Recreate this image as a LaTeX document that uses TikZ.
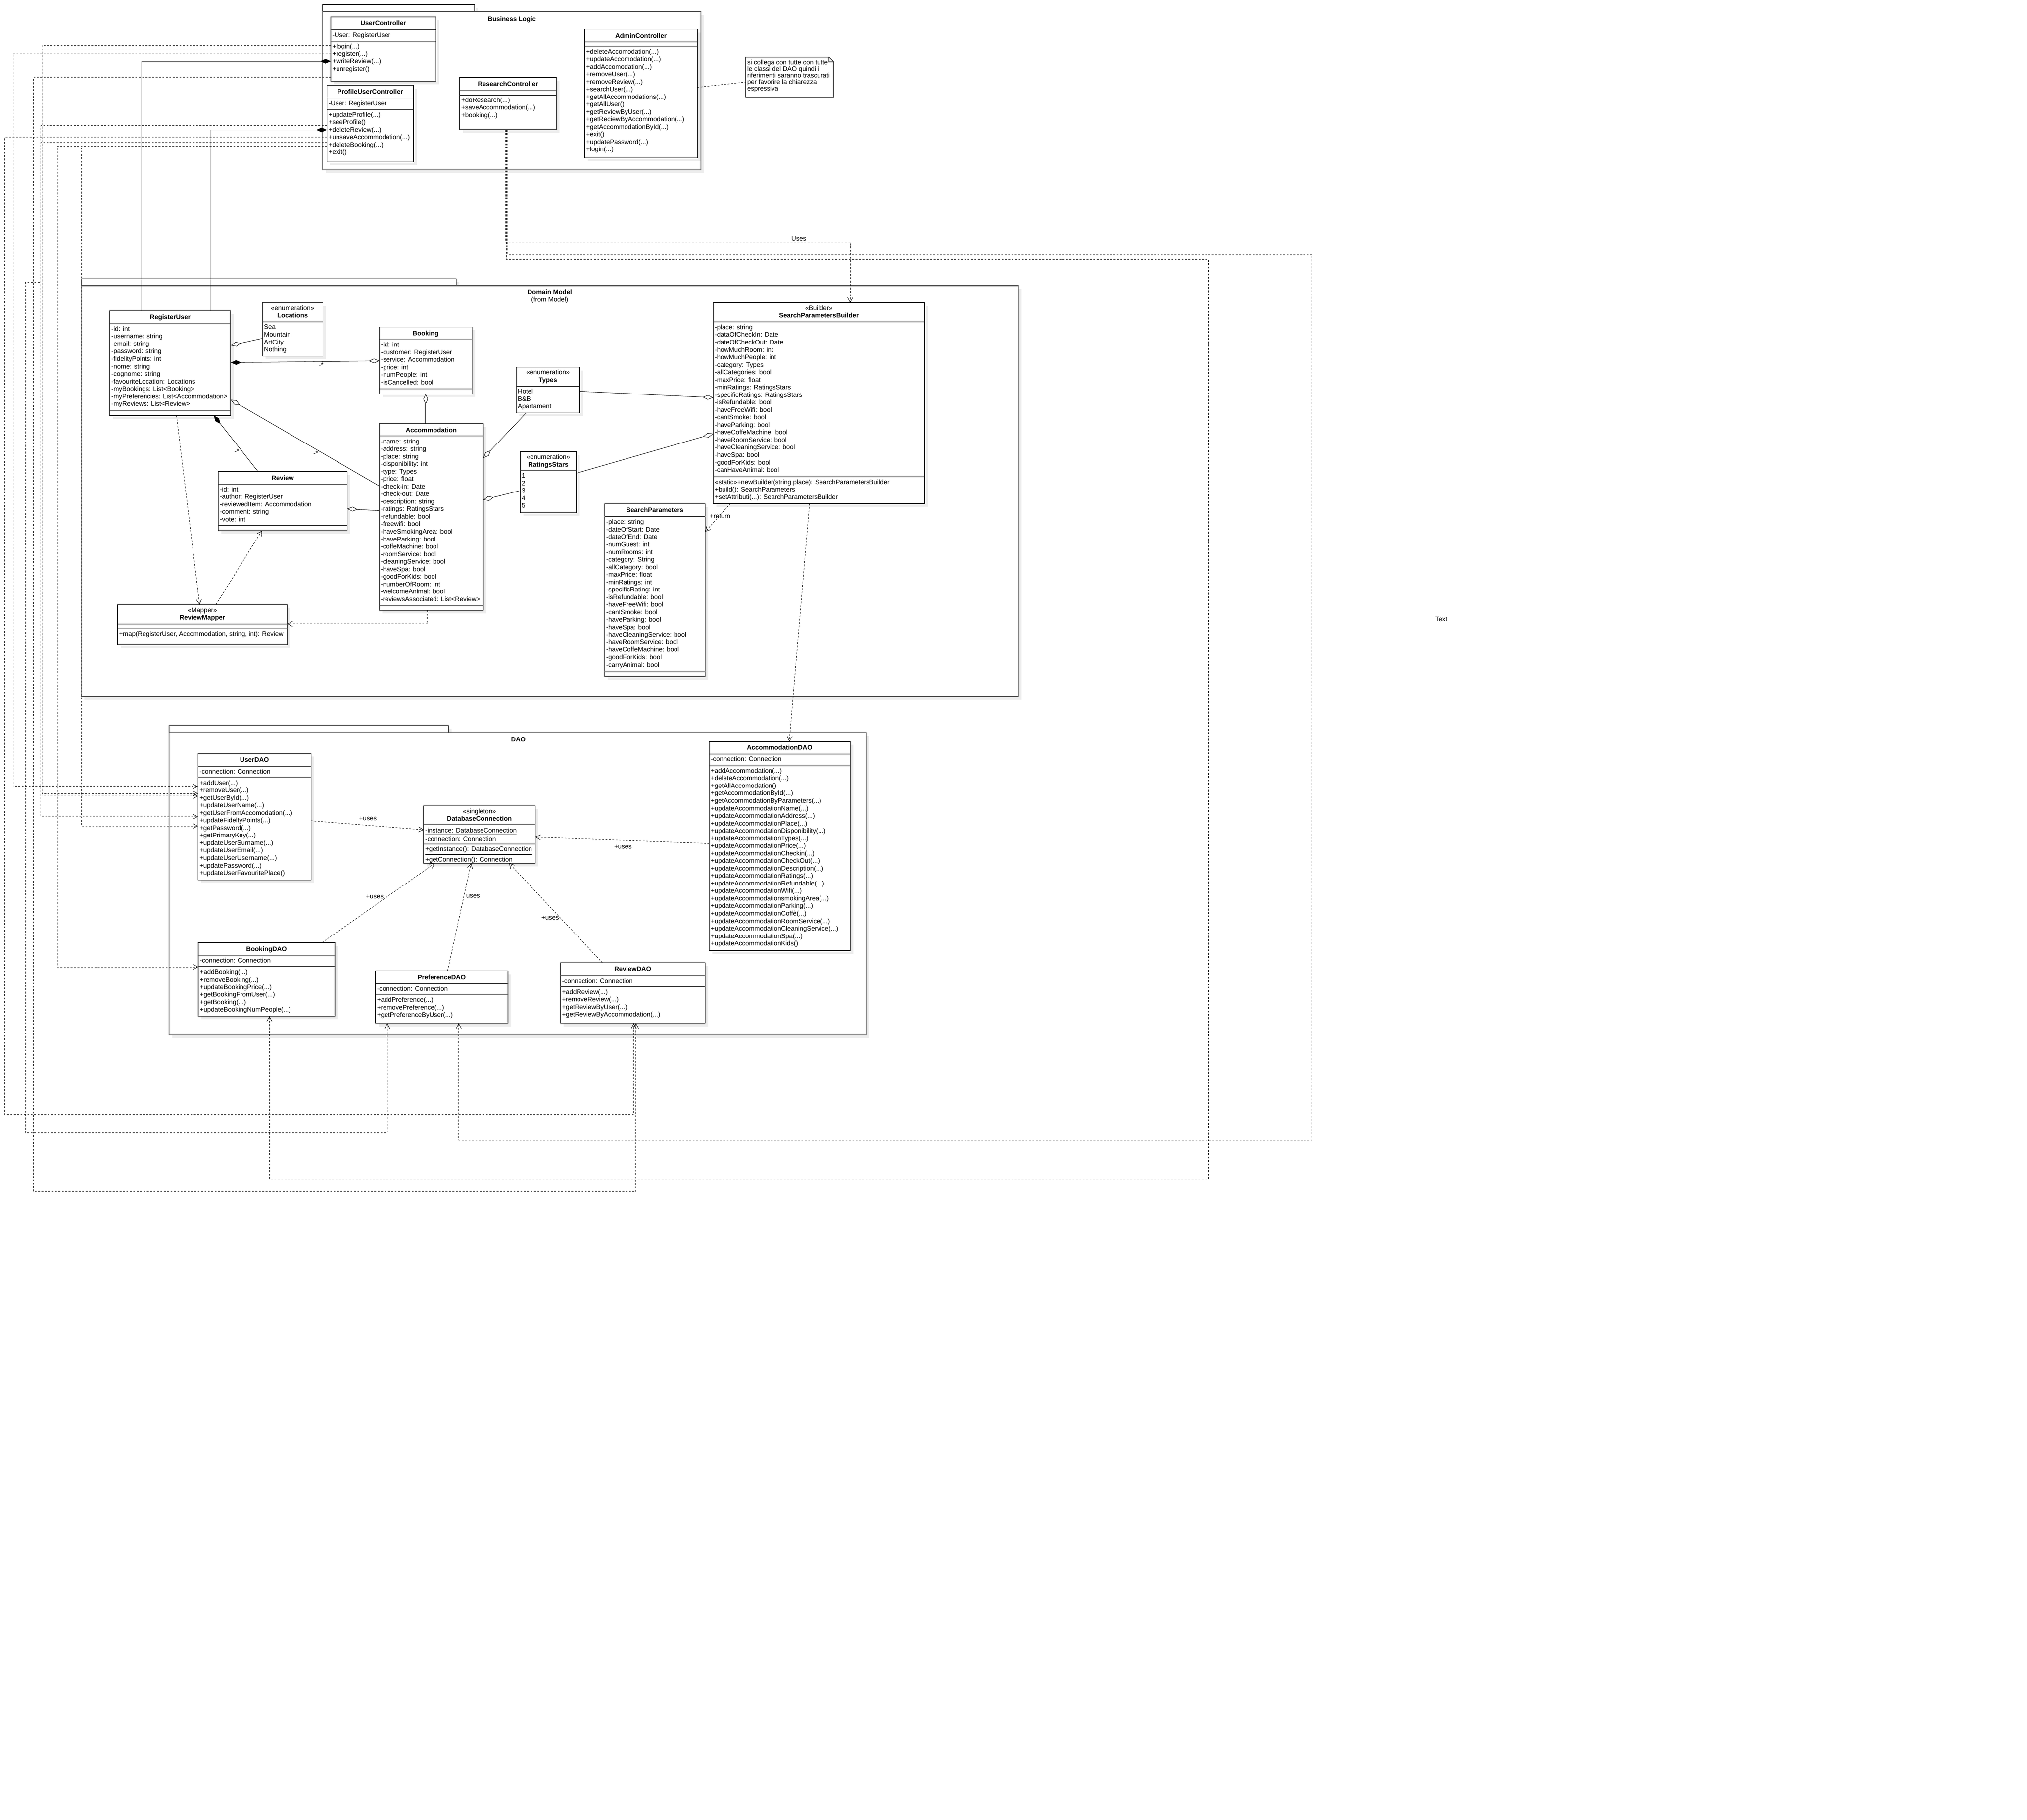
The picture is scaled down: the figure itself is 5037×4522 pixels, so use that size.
\documentclass[tikz,border=0pt]{standalone}
\usepackage{fontspec}
\setmainfont{Liberation Sans}
\usetikzlibrary{arrows.meta}
\begin{document}
\begin{tikzpicture}[x=0.01cm, y=-0.01cm, font=\fontsize{4.6}{5.31}\selectfont,
  classbox/.style={draw, line width=0.4pt, fill=white, inner sep=0pt, outer sep=0pt, anchor=north west},
  shade/.style={fill=black!7},
  sepline/.style={draw=black!75, line width=0.55pt},
  pkgtab/.style={draw, line width=0.4pt, fill=white},
  pkgline/.style={draw=black!70, line width=0.6pt, fill=white},
  txt/.style={inner sep=0pt, outer sep=0pt, align=left, anchor=north west},
  ttl/.style={inner sep=0pt, font=\fontsize{4.6}{5.31}\selectfont\bfseries, anchor=base},
  ster/.style={inner sep=0pt, anchor=base},
  lbl/.style={inner sep=0pt, anchor=base},
  link/.style={line width=0.3pt},
  dep/.style={link, dash pattern=on 1.3pt off 1.1pt, -{Straight Barb[length=3.4pt, width=3.7pt]}},
  aggr/.style={link, -{Diamond[open, length=7.5pt, width=3.3pt]}},
  comp/.style={link, -{Diamond[length=7.5pt, width=3.3pt]}}]
\fill[white] (0,0) rectangle (5037,4522);
\useasboundingbox (0,0) rectangle (5037,4522);
\fill[shade] (810,20.3) rectangle (1187,37.3);
\fill[shade] (810,37.3) rectangle (1750,430);
\draw[pkgtab] (802,12.3) rectangle (1179,29.3);
\draw[pkgline] (802,29.3) rectangle (1742,422);
\node[ttl] (blogic) at (1272,52.7) {Business Logic};
\fill[shade] (209.9,700.3) rectangle (1141.6,717.7);
\fill[shade] (209.9,717.7) rectangle (2539,1739);
\draw[pkgtab] (201.9,692.3) rectangle (1133.6,709.7);
\draw[pkgline] (201.9,709.7) rectangle (2531,1731);
\node[ttl] (dmodel) at (1366,731) {Domain Model};
\node[ster] (dmodel-s) at (1366,750) {(from Model)};
\fill[shade] (428,1810.7) rectangle (1122.5,1828);
\fill[shade] (428,1828) rectangle (2160,2580.3);
\draw[pkgtab] (420,1802.7) rectangle (1114.5,1820);
\draw[pkgline] (420,1820) rectangle (2152,2572.3);
\node[ttl] (dao) at (1288,1842.7) {DAO};
\fill[shade] (830,50.3) rectangle ++(261,159.7);
\node[classbox, minimum width=2.61cm, minimum height=1.597cm] (UserController) at (822,42.3) {};
\draw[sepline] (UserController.west |- 0,73.3) -- (UserController.east |- 0,73.3);
\draw[sepline] (UserController.west |- 0,102.3) -- (UserController.east |- 0,102.3);
\node[ttl] (UserController-t) at (952.5,63.3) {UserController};
\node[txt] (UserController-a) at (826,80.7) {-User: RegisterUser};
\node[txt] (UserController-m) at (826,108.7) {+login(...)\\+register(...)\\+writeReview(...)\\+unregister()};
\fill[shade] (820.5,220.3) rectangle ++(215.1,190);
\node[classbox, minimum width=2.151cm, minimum height=1.9cm] (ProfileUserController) at (812.5,212.3) {};
\draw[sepline] (ProfileUserController.west |- 0,243.7) -- (ProfileUserController.east |- 0,243.7);
\draw[sepline] (ProfileUserController.west |- 0,272.3) -- (ProfileUserController.east |- 0,272.3);
\node[ttl] (ProfileUserController-t) at (920,233) {ProfileUserController};
\node[txt] (ProfileUserController-a) at (816.5,250.7) {-User: RegisterUser};
\node[txt] (ProfileUserController-m) at (816.5,278.7) {+updateProfile(...)\\+seeProfile()\\+deleteReview(...)\\+unsaveAccommodation(...)\\+deleteBooking(...)\\+exit()};
\fill[shade] (1150.3,200.3) rectangle ++(240,130);
\node[classbox, minimum width=2.4cm, minimum height=1.3cm] (ResearchController) at (1142.3,192.3) {};
\draw[sepline] (ResearchController.west |- 0,223.3) -- (ResearchController.east |- 0,223.3);
\draw[sepline] (ResearchController.west |- 0,236.3) -- (ResearchController.east |- 0,236.3);
\node[ttl] (ResearchController-t) at (1262.3,213.7) {ResearchController};
\node[txt] (ResearchController-m) at (1146.3,242.3) {+doResearch(...)\\+saveAccommodation(...)\\+booking(...)};
\fill[shade] (1460.7,80.3) rectangle ++(280,320);
\node[classbox, minimum width=2.8cm, minimum height=3.2cm] (AdminController) at (1452.7,72.3) {};
\draw[sepline] (AdminController.west |- 0,103.7) -- (AdminController.east |- 0,103.7);
\draw[sepline] (AdminController.west |- 0,116) -- (AdminController.east |- 0,116);
\node[ttl] (AdminController-t) at (1592.6,93.7) {AdminController};
\node[txt] (AdminController-m) at (1456.7,122.3) {+deleteAccomodation(...)\\+updateAccomodation(...)\\+addAccomodation(...)\\+removeUser(...)\\+removeReview(...)\\+searchUser(...)\\+getAllAccommodations(...)\\+getAllUser()\\+getReviewByUser(...)\\+getReciewByAccommodation(...)\\+getAccommodationById(...)\\+exit()\\+updatePassword(...)\\+login(...)};
\draw[line width=0.4pt, fill=white] (1853,142.3) -- (2060,142.3) -- (2072,154.3) -- (2072,241) -- (1853,241) -- cycle;
\draw[line width=0.4pt] (2060,142.3) -- (2060,154.3) -- (2072,154.3);
\node[inner sep=0pt, minimum width=2.19cm, minimum height=0.987cm, anchor=north west] (note) at (1853,142.3) {};
\node[txt, font=\fontsize{4.6}{4.62}\selectfont] (note-t) at (1857,148.7) {si collega con tutte con tutte\\le classi del DAO quindi i\\riferimenti saranno trascurati\\per favorire la chiarezza\\espressiva};
\draw[link, dash pattern=on 1.3pt off 1.1pt] (AdminController.east |- 0,217) -- (note.west |- 0,204);
\fill[shade] (280.8,780.3) rectangle ++(300.4,260);
\node[classbox, minimum width=3.004cm, minimum height=2.6cm] (RegisterUser) at (272.8,772.3) {};
\draw[sepline] (RegisterUser.west |- 0,803.3) -- (RegisterUser.east |- 0,803.3);
\draw[sepline] (RegisterUser.west |- 0,1020) -- (RegisterUser.east |- 0,1020);
\node[ttl] (RegisterUser-t) at (423,793.3) {RegisterUser};
\node[txt] (RegisterUser-a) at (276.8,810.7) {-id: int\\-username: string\\-email: string\\-password: string\\-fidelityPoints: int\\-nome: string\\-cognome: string\\-favouriteLocation: Locations\\-myBookings: List<Booking>\\-myPreferencies: List<Accommodation>\\-myReviews: List<Review>};
\fill[shade] (660,760.3) rectangle ++(150,132.4);
\node[classbox, minimum width=1.5cm, minimum height=1.324cm] (Locations) at (652,752.3) {};
\draw[sepline] (Locations.west |- 0,800) -- (Locations.east |- 0,800);
\node[ster] (Locations-s) at (727,771) {«enumeration»};
\node[ttl] (Locations-t) at (727,789.3) {Locations};
\node[txt] (Locations-a) at (656,806.7) {Sea\\Mountain\\ArtCity\\Nothing};
\fill[shade] (950.6,820.3) rectangle ++(230.1,166);
\node[classbox, minimum width=2.301cm, minimum height=1.66cm] (Booking) at (942.6,812.3) {};
\draw[sepline] (Booking.west |- 0,843.7) -- (Booking.east |- 0,843.7);
\draw[sepline] (Booking.west |- 0,965.7) -- (Booking.east |- 0,965.7);
\node[ttl] (Booking-t) at (1057.6,833.3) {Booking};
\node[txt] (Booking-a) at (946.6,850.3) {-id: int\\-customer: RegisterUser\\-service: Accommodation\\-price: int\\-numPeople: int\\-isCancelled: bool};
\fill[shade] (950.2,1060.3) rectangle ++(258.9,464);
\node[classbox, minimum width=2.589cm, minimum height=4.64cm] (Accommodation) at (942.2,1052.3) {};
\draw[sepline] (Accommodation.west |- 0,1083.1) -- (Accommodation.east |- 0,1083.1);
\draw[sepline] (Accommodation.west |- 0,1504) -- (Accommodation.east |- 0,1504);
\node[ttl] (Accommodation-t) at (1071.6,1073.9) {Accommodation};
\node[txt] (Accommodation-a) at (946.2,1090.4) {-name: string\\-address: string\\-place: string\\-disponibility: int\\-type: Types\\-price: float\\-check-in: Date\\-check-out: Date\\-description: string\\-ratings: RatingsStars\\-refundable: bool\\-freewifi: bool\\-haveSmokingArea: bool\\-haveParking: bool\\-coffeMachine: bool\\-roomService: bool\\-cleaningService: bool\\-haveSpa: bool\\-goodForKids: bool\\-numberOfRoom: int\\-welcomeAnimal: bool\\-reviewsAssociated: List<Review>};
\fill[shade] (550.3,1179.7) rectangle ++(320.2,146.9);
\node[classbox, minimum width=3.202cm, minimum height=1.469cm] (Review) at (542.3,1171.7) {};
\draw[sepline] (Review.west |- 0,1202.9) -- (Review.east |- 0,1202.9);
\draw[sepline] (Review.west |- 0,1306) -- (Review.east |- 0,1306);
\node[ttl] (Review-t) at (702.4,1192.9) {Review};
\node[txt] (Review-a) at (546.3,1209.5) {-id: int\\-author: RegisterUser\\-reviewedItem: Accommodation\\-comment: string\\-vote: int};
\fill[shade] (1290.6,920.3) rectangle ++(158,113.7);
\node[classbox, minimum width=1.58cm, minimum height=1.137cm] (Types) at (1282.6,912.3) {};
\draw[sepline] (Types.west |- 0,960) -- (Types.east |- 0,960);
\node[ster] (Types-s) at (1361.6,930.7) {«enumeration»};
\node[ttl] (Types-t) at (1361.6,949.3) {Types};
\node[txt] (Types-a) at (1286.6,966.3) {Hotel\\B\&B\\Apartament};
\fill[shade] (1300.5,1130.3) rectangle ++(140.1,151.4);
\node[classbox, minimum width=1.401cm, minimum height=1.514cm] (RatingsStars) at (1292.5,1122.3) {};
\draw[sepline] (RatingsStars.west |- 0,1170) -- (RatingsStars.east |- 0,1170);
\node[ster] (RatingsStars-s) at (1362.5,1140.7) {«enumeration»};
\node[ttl] (RatingsStars-t) at (1362.5,1159.7) {RatingsStars};
\node[txt] (RatingsStars-a) at (1296.5,1176.3) {1\\2\\3\\4\\5};
\fill[shade] (1780.2,760.4) rectangle ++(525.4,498.6);
\node[classbox, minimum width=5.254cm, minimum height=4.986cm] (SearchParametersBuilder) at (1772.2,752.4) {};
\draw[sepline] (SearchParametersBuilder.west |- 0,799.6) -- (SearchParametersBuilder.east |- 0,799.6);
\draw[sepline] (SearchParametersBuilder.west |- 0,1184.9) -- (SearchParametersBuilder.east |- 0,1184.9);
\node[ster] (SearchParametersBuilder-s) at (2034.9,770.8) {«Builder»};
\node[ttl] (SearchParametersBuilder-t) at (2034.9,789.4) {SearchParametersBuilder};
\node[txt] (SearchParametersBuilder-a) at (1776.2,806.7) {-place: string\\-dataOfCheckIn: Date\\-dateOfCheckOut: Date\\-howMuchRoom: int\\-howMuchPeople: int\\-category: Types\\-allCategories: bool\\-maxPrice: float\\-minRatings: RatingsStars\\-specificRatings: RatingsStars\\-isRefundable: bool\\-haveFreeWifi: bool\\-canISmoke: bool\\-haveParking: bool\\-haveCoffeMachine: bool\\-haveRoomService: bool\\-haveCleaningService: bool\\-haveSpa: bool\\-goodForKids: bool\\-canHaveAnimal: bool};
\node[txt] (SearchParametersBuilder-m) at (1776.2,1191.3) {«static»+newBuilder(string place): SearchParametersBuilder\\+build(): SearchParameters\\+setAttributi(...): SearchParametersBuilder};
\fill[shade] (1510.3,1260.3) rectangle ++(250,428.7);
\node[classbox, minimum width=2.5cm, minimum height=4.287cm] (SearchParameters) at (1502.3,1252.3) {};
\draw[sepline] (SearchParameters.west |- 0,1283.3) -- (SearchParameters.east |- 0,1283.3);
\draw[sepline] (SearchParameters.west |- 0,1669) -- (SearchParameters.east |- 0,1669);
\node[ttl] (SearchParameters-t) at (1627.3,1273.3) {SearchParameters};
\node[txt] (SearchParameters-a) at (1506.3,1290.7) {-place: string\\-dateOfStart: Date\\-dateOfEnd: Date\\-numGuest: int\\-numRooms: int\\-category: String\\-allCategory: bool\\-maxPrice: float\\-minRatings: int\\-specificRating: int\\-isRefundable: bool\\-haveFreeWifi: bool\\-canISmoke: bool\\-haveParking: bool\\-haveSpa: bool\\-haveCleaningService: bool\\-haveRoomService: bool\\-haveCoffeMachine: bool\\-goodForKids: bool\\-carryAnimal: bool};
\fill[shade] (300,1510.3) rectangle ++(421.7,100);
\node[classbox, minimum width=4.217cm, minimum height=1cm] (ReviewMapper) at (292,1502.3) {};
\draw[sepline] (ReviewMapper.west |- 0,1550) -- (ReviewMapper.east |- 0,1550);
\draw[sepline] (ReviewMapper.west |- 0,1562) -- (ReviewMapper.east |- 0,1562);
\node[ster] (ReviewMapper-s) at (502.8,1521.7) {«Mapper»};
\node[ttl] (ReviewMapper-t) at (502.8,1540) {ReviewMapper};
\node[txt] (ReviewMapper-m) at (296,1568.7) {+map(RegisterUser, Accommodation, string, int): Review};
\fill[shade] (500,1880) rectangle ++(280.7,314.3);
\node[classbox, minimum width=2.807cm, minimum height=3.143cm] (UserDAO) at (492,1872) {};
\draw[sepline] (UserDAO.west |- 0,1903.7) -- (UserDAO.east |- 0,1903.7);
\draw[sepline] (UserDAO.west |- 0,1932.3) -- (UserDAO.east |- 0,1932.3);
\node[ttl] (UserDAO-t) at (632.3,1893.3) {UserDAO};
\node[txt] (UserDAO-a) at (496,1910.7) {-connection: Connection};
\node[txt] (UserDAO-m) at (496,1938.7) {+addUser(...)\\+removeUser(...)\\+getUserById(...)\\+updateUserName(...)\\+getUserFromAccomodation(...)\\+updateFideltyPoints(...)\\+getPassword(...)\\+getPrimaryKey(...)\\+updateUserSurname(...)\\+updateUserEmail(...)\\+updateUserUsername(...)\\+updatePassword(...)\\+updateUserFavouritePlace()};
\fill[shade] (1060.7,2010.3) rectangle ++(277.3,142.4);
\node[classbox, minimum width=2.773cm, minimum height=1.424cm] (DatabaseConnection) at (1052.7,2002.3) {};
\draw[sepline] (DatabaseConnection.west |- 0,2049.3) -- (DatabaseConnection.east |- 0,2049.3);
\draw[sepline] (DatabaseConnection.west |- 0,2097.3) -- (DatabaseConnection.east |- 0,2097.3);
\node[ster] (DatabaseConnection-s) at (1191.3,2021.3) {«singleton»};
\node[ttl] (DatabaseConnection-t) at (1191.3,2039.3) {DatabaseConnection};
\node[txt] (DatabaseConnection-a) at (1056.7,2056.7) {\underline{-instance: DatabaseConnection}\\-connection: Connection};
\node[txt] (DatabaseConnection-m) at (1056.7,2103.7) {\underline{+getInstance(): DatabaseConnection}\\+getConnection(): Connection};
\fill[shade] (1770.3,1850.5) rectangle ++(350,519.6);
\node[classbox, minimum width=3.5cm, minimum height=5.196cm] (AccommodationDAO) at (1762.3,1842.5) {};
\draw[sepline] (AccommodationDAO.west |- 0,1873.9) -- (AccommodationDAO.east |- 0,1873.9);
\draw[sepline] (AccommodationDAO.west |- 0,1902.5) -- (AccommodationDAO.east |- 0,1902.5);
\node[ttl] (AccommodationDAO-t) at (1937.3,1863.6) {AccommodationDAO};
\node[txt] (AccommodationDAO-a) at (1766.3,1880.1) {-connection: Connection};
\node[txt] (AccommodationDAO-m) at (1766.3,1908.7) {+addAccommodation(...)\\+deleteAccommodation(...)\\+getAllAccomodation()\\+getAccommodationById(...)\\+getAccommodationByParameters(...)\\+updateAccommodationName(...)\\+updateAccommodationAddress(...)\\+updateAccommodationPlace(...)\\+updateAccommodationDisponibility(...)\\+updateAccommodationTypes(...)\\+updateAccommodationPrice(...)\\+updateAccommodationCheckin(...)\\+updateAccommodationCheckOut(...)\\+updateAccommodationDescription(...)\\+updateAccommodationRatings(...)\\+updateAccommodationRefundable(...)\\+updateAccommodationWifi(...)\\+updateAccommodationsmokingArea(...)\\+updateAccommodationParking(...)\\+updateAccommodationCoffè(...)\\+updateAccommodationRoomService(...)\\+updateAccommodationCleaningService(...)\\+updateAccommodationSpa(...)\\+updateAccommodationKids()};
\fill[shade] (500.7,2350.3) rectangle ++(339.3,182.7);
\node[classbox, minimum width=3.393cm, minimum height=1.827cm] (BookingDAO) at (492.7,2342.3) {};
\draw[sepline] (BookingDAO.west |- 0,2373.3) -- (BookingDAO.east |- 0,2373.3);
\draw[sepline] (BookingDAO.west |- 0,2402) -- (BookingDAO.east |- 0,2402);
\node[ttl] (BookingDAO-t) at (662.3,2364) {BookingDAO};
\node[txt] (BookingDAO-a) at (496.7,2380.7) {-connection: Connection};
\node[txt] (BookingDAO-m) at (496.7,2409) {+addBooking(...)\\+removeBooking(...)\\+updateBookingPrice(...)\\+getBookingFromUser(...)\\+getBooking(...)\\+updateBookingNumPeople(...)};
\fill[shade] (941,2420.3) rectangle ++(329,130);
\node[classbox, minimum width=3.29cm, minimum height=1.3cm] (PreferenceDAO) at (933,2412.3) {};
\draw[sepline] (PreferenceDAO.west |- 0,2443.3) -- (PreferenceDAO.east |- 0,2443.3);
\draw[sepline] (PreferenceDAO.west |- 0,2472.3) -- (PreferenceDAO.east |- 0,2472.3);
\node[ttl] (PreferenceDAO-t) at (1097.5,2433.7) {PreferenceDAO};
\node[txt] (PreferenceDAO-a) at (937,2450.7) {-connection: Connection};
\node[txt] (PreferenceDAO-m) at (937,2478.3) {+addPreference(...)\\+removePreference(...)\\+getPreferenceByUser(...)};
\fill[shade] (1400.6,2400.3) rectangle ++(359.4,150);
\node[classbox, minimum width=3.594cm, minimum height=1.5cm] (ReviewDAO) at (1392.6,2392.3) {};
\draw[sepline] (ReviewDAO.west |- 0,2423.3) -- (ReviewDAO.east |- 0,2423.3);
\draw[sepline] (ReviewDAO.west |- 0,2452.3) -- (ReviewDAO.east |- 0,2452.3);
\node[ttl] (ReviewDAO-t) at (1572.3,2413.7) {ReviewDAO};
\node[txt] (ReviewDAO-a) at (1396.6,2430.7) {-connection: Connection};
\node[txt] (ReviewDAO-m) at (1396.6,2458.7) {+addReview(...)\\+removeReview(...)\\+getReviewByUser(...)\\+getReviewByAccommodation(...)};
\node[ster] (freetext) at (3581,1544) {Text};
\draw[comp] (352.4,0 |- RegisterUser.north) |- (UserController.west |- 0,152.4);
\draw[comp] (522.8,0 |- RegisterUser.north) |- (ProfileUserController.west |- 0,322.8);
\draw[aggr] (Locations.west |- 0,840.7) -- (RegisterUser.east |- 0,858.3);
\draw[link, {Diamond[length=7.5pt, width=3.3pt]}-{Diamond[open, length=7.5pt, width=3.3pt]}] (RegisterUser.east |- 0,901) -- (Booking.west |- 0,896.7);
\node[lbl] (mult1) at (798,912.7) {-*};
\draw[link, {Diamond[open, length=7.5pt, width=3.3pt]}-] (Booking.south) -- (Booking.south |- Accommodation.north);
\draw[aggr] (Accommodation.west |- 0,1207.5) -- (RegisterUser.east |- 0,993.3);
\node[lbl] (mult2) at (784.7,1131.9) {-*};
\draw[comp] (641.2,0 |- Review.north) -- (531.5,0 |- RegisterUser.south);
\node[lbl] (mult3) at (588.2,1126.9) {-*};
\draw[aggr] (Accommodation.west |- 0,1268.9) -- (Review.east |- 0,1264.2);
\draw[aggr] (1307.4,0 |- Types.south) -- (Accommodation.east |- 0,1138);
\draw[aggr] (Types.east |- 0,972.3) -- (SearchParametersBuilder.west |- 0,988);
\draw[aggr] (RatingsStars.west |- 0,1219) -- (Accommodation.east |- 0,1242);
\draw[aggr] (RatingsStars.east |- 0,1175.7) -- (SearchParametersBuilder.west |- 0,1077.7);
\draw[dep] (438.6,0 |- RegisterUser.south) -- (496,0 |- ReviewMapper.north);
\draw[dep] (536.7,0 |- ReviewMapper.north) -- (650.7,0 |- Review.south);
\draw[dep] (1062.7,0 |- Accommodation.south) |- (ReviewMapper.east |- 0,1550);
\draw[dep] (1815,0 |- SearchParametersBuilder.south) -- (SearchParameters.east |- 0,1321);
\node[lbl] (ret) at (1789.3,1288.3) {+return};
\draw[dep] (2011.6,0 |- SearchParametersBuilder.south) -- (1961.3,0 |- AccommodationDAO.north);
\draw[dep] (UserDAO.east |- 0,2039.3) -- (DatabaseConnection.west |- 0,2061.7);
\node[lbl] (uses1) at (914.3,2038) {+uses};
\draw[dep] (AccommodationDAO.west |- 0,2096) -- (DatabaseConnection.east |- 0,2080);
\node[lbl] (uses2) at (1548,2109) {+uses};
\draw[dep] (800,0 |- BookingDAO.north) -- (1080.7,0 |- DatabaseConnection.south);
\node[lbl] (uses3) at (931.3,2233.3) {+uses};
\draw[dep] (1112.3,0 |- PreferenceDAO.north) -- (1170.6,0 |- DatabaseConnection.south);
\node[lbl] (uses4) at (1175.4,2231.3) {uses};
\draw[dep] (1497,0 |- ReviewDAO.north) -- (1265,0 |- DatabaseConnection.south);
\node[lbl] (uses5) at (1367.3,2285.7) {+uses};
\draw[dep] (UserController.west |- 0,112.5) -| (104.2,1971.7) -- (UserDAO.west |- 0,1971.7);
\draw[dep] (UserController.west |- 0,122.5) -| (106.5,1978.3) -- (UserDAO.west |- 0,1978.3);
\draw[dep] (UserController.west |- 0,132.5) -| (32.4,1954.3) -- (UserDAO.west |- 0,1954.3);
\draw[dep] (UserController.west |- 0,192.7) -| (82.8,2961) -| (1580.5,0 |- ReviewDAO.south);
\draw[dep] (ProfileUserController.west |- 0,312) -| (101.5,2029) -- (UserDAO.west |- 0,2029);
\draw[dep] (ProfileUserController.west |- 0,342.4) -| (12,2769) -| (1575,0 |- ReviewDAO.south);
\draw[dep] (ProfileUserController.west |- 0,352.8) -| (101.5,702) -| (63,2814) -| (962.4,0 |- PreferenceDAO.south);
\draw[dep] (ProfileUserController.west |- 0,362.7) -| (142.6,2402.7) -- (BookingDAO.west |- 0,2402.7);
\draw[dep] (ProfileUserController.west |- 0,368.4) -| (202.4,2052.3) -- (UserDAO.west |- 0,2052.3);
\draw[dep] (1255.4,0 |- ResearchController.south) |- (2112.6,600.6) -- (2112.6,0 |- SearchParametersBuilder.north);
\node[lbl] (uses0) at (1985,598) {Uses};
\draw[dep] (1258.6,0 |- ResearchController.south) |- (3003,645) |- (669.5,2929) -- (669.5,0 |- BookingDAO.south);
\draw[dep] (1261.7,0 |- ResearchController.south) |- (3260,632) |- (1140,2833) -- (1140,0 |- PreferenceDAO.south);
\end{tikzpicture}
\end{document}
